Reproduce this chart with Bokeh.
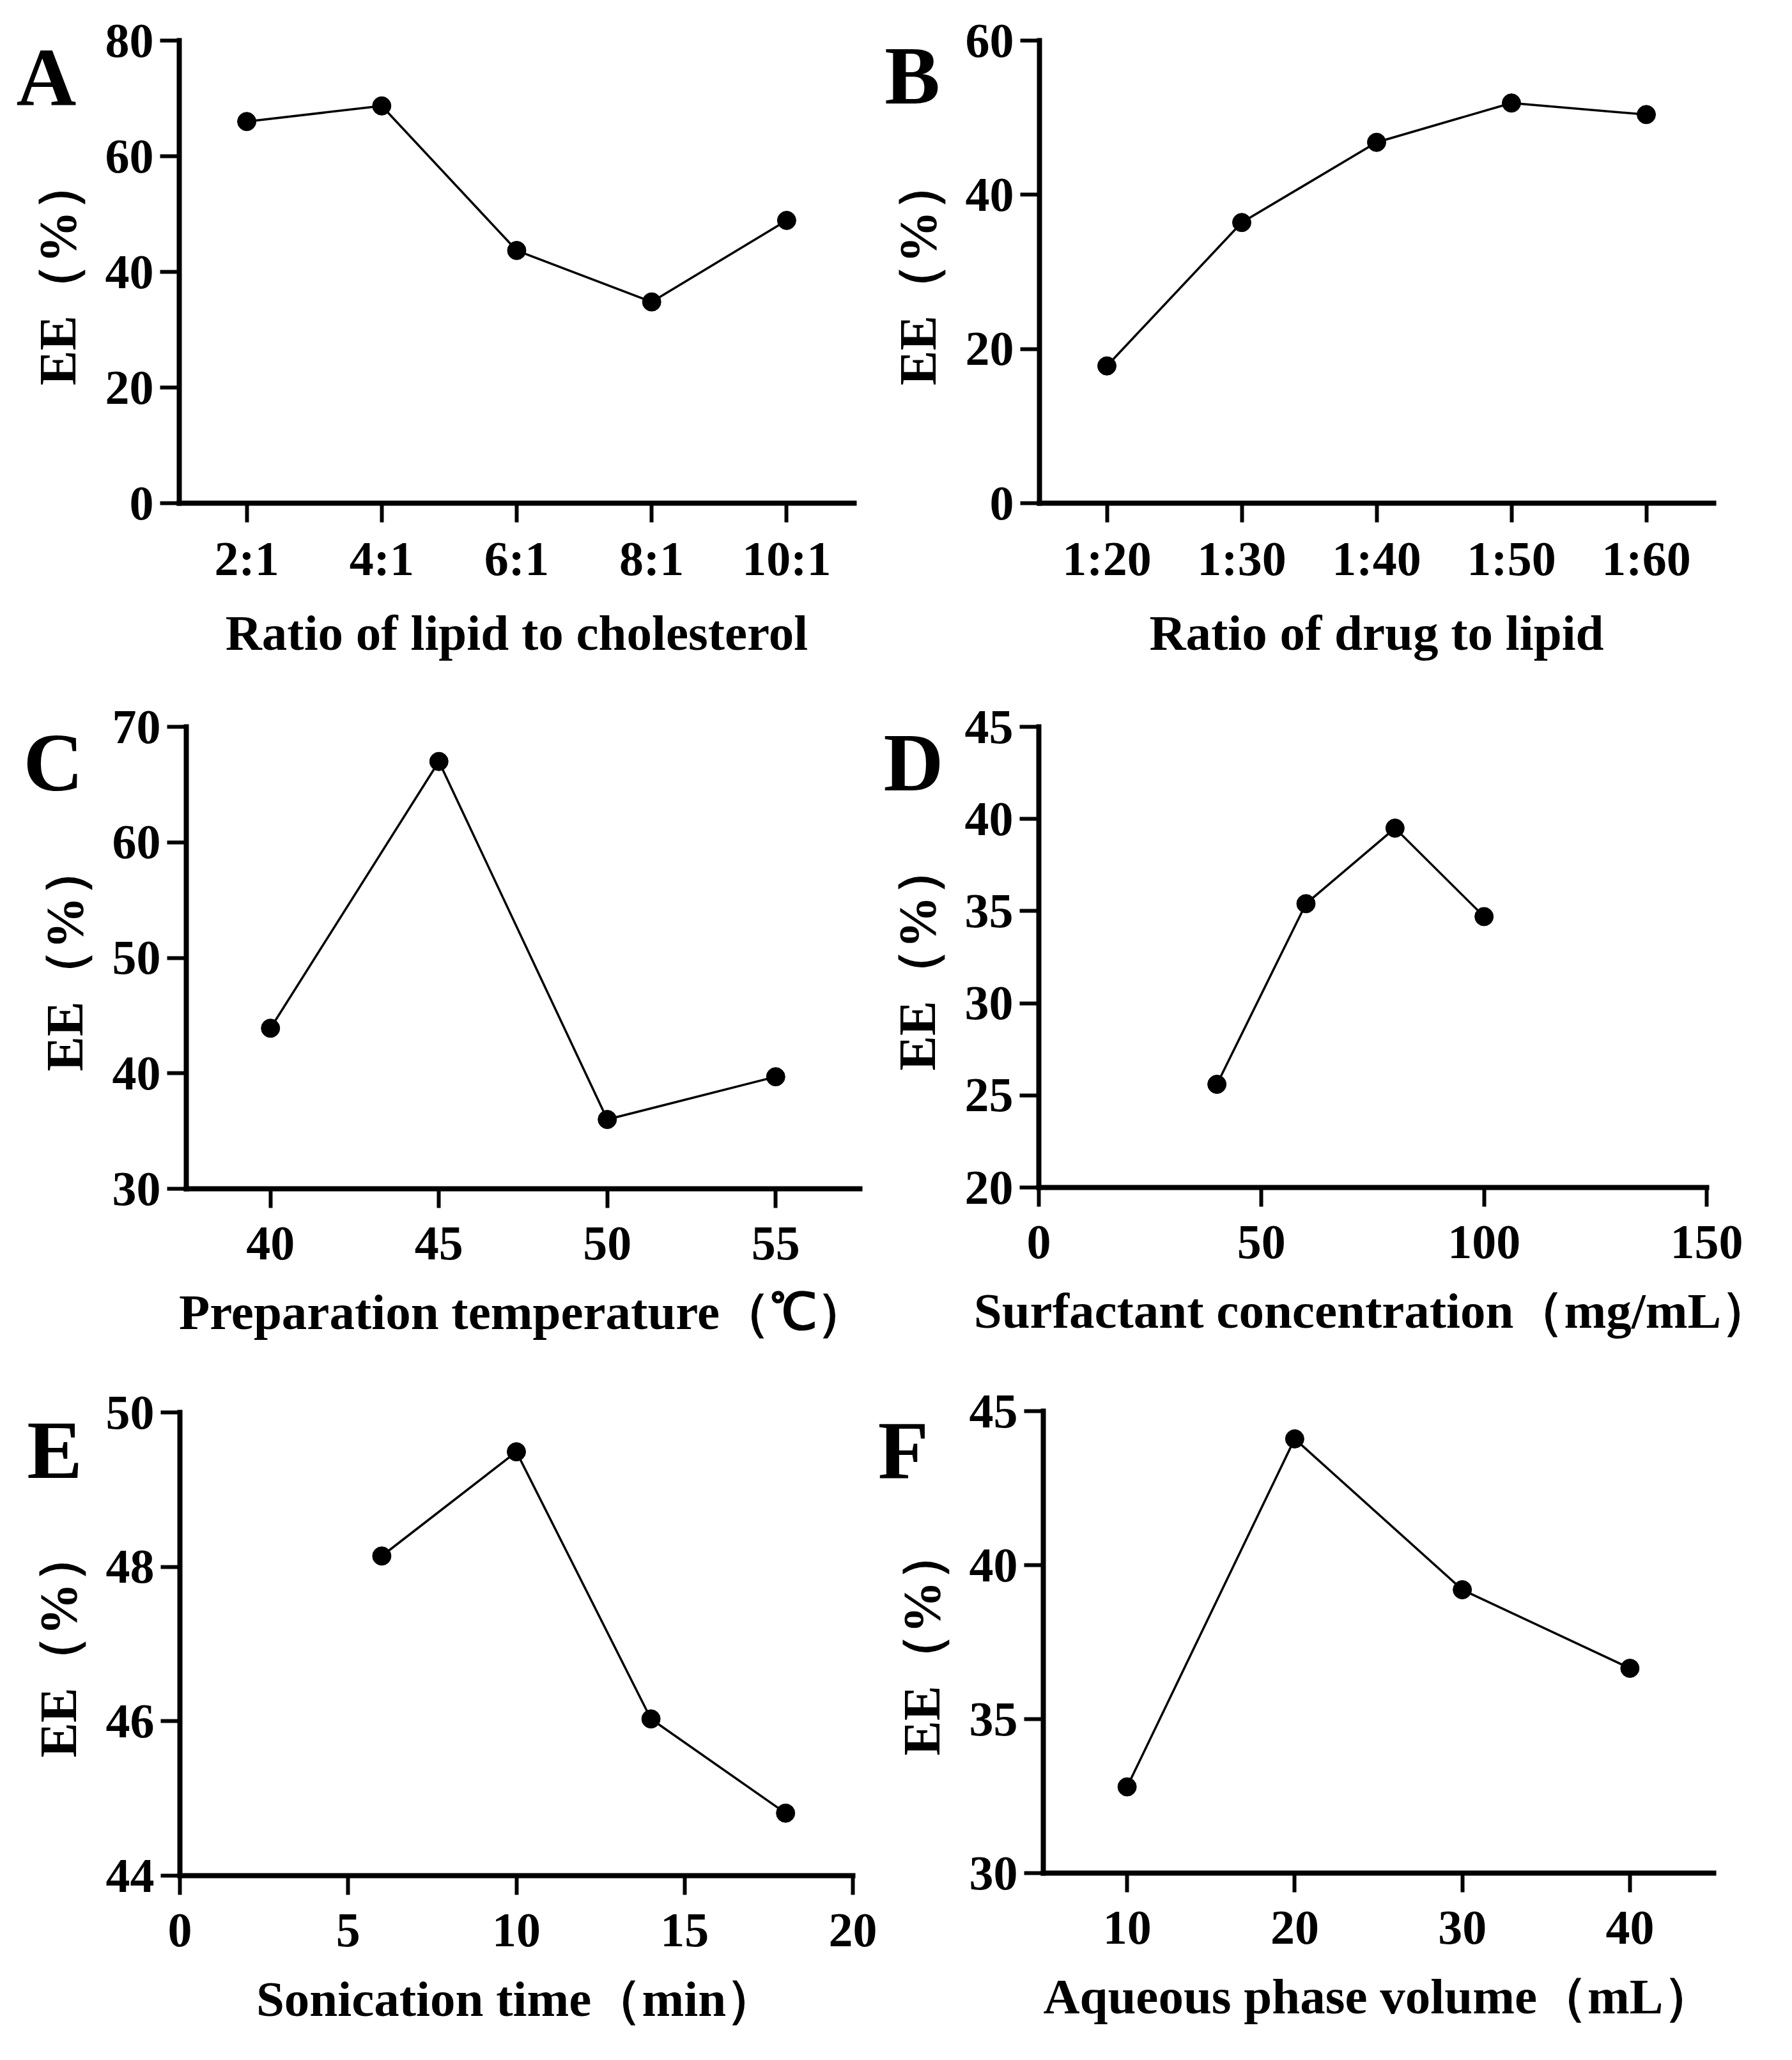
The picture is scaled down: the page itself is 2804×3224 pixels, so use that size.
from bokeh.plotting import figure
from bokeh.models import Range1d, FixedTicker, Label
from bokeh.layouts import gridplot
from bokeh.embed import file_html
from bokeh.resources import INLINE

# ---------------- data ----------------
A_ratio = ["2:1", "4:1", "6:1", "8:1", "10:1"]
A_ee = [66.0, 68.7, 43.7, 34.8, 48.9]

B_ratio = ["1:20", "1:30", "1:40", "1:50", "1:60"]
B_ee = [17.8, 36.4, 46.8, 51.9, 50.4]

C_temp = [40, 45, 50, 55]
C_ee = [43.9, 67.0, 36.0, 39.7]

D_conc = [40, 60, 80, 100]
D_ee = [25.6, 35.4, 39.5, 34.7]

E_time = [6, 10, 14, 18]
E_ee = [48.14, 49.49, 46.03, 44.81]

F_vol = [10, 20, 30, 40]
F_ee = [32.8, 44.1, 39.2, 36.65]

A_yticks = [0, 20, 40, 60, 80]
B_yticks = [0, 20, 40, 60]
C_yticks = [30, 40, 50, 60, 70]
D_yticks = [20, 25, 30, 35, 40, 45]
E_yticks = [44, 46, 48, 50]
F_yticks = [30, 35, 40, 45]
C_xticks = [40, 45, 50, 55]
D_xticks = [0, 50, 100, 150]
E_xticks = [0, 5, 10, 15, 20]
F_xticks = [10, 20, 30, 40]

Y_TITLE = "EE（%）"

FONT = "Liberation Serif"
TICK_SIZE = "76px"
XTITLE_SIZE = "79px"
YTITLE_SIZE = "82px"
LETTER_SIZE = "130px"


def panel(xlim, ylim, yticks, xticks, xs, ys, xlabel, letter, letter_xy,
          w, h, box, tick_standoff, title_standoff, overrides=None):
    # box = (left, right, top, bottom) of the plotting area in canvas pixels
    L, R, T, B = box
    x0, x1 = xlim
    y0, y1 = ylim
    ppx = (R - L) / (x1 - x0)
    ppy = (B - T) / (y1 - y0)
    xr = Range1d(x0 - L / ppx, x1 + (w - R) / ppx)
    yr = Range1d(y0 - (h - B) / ppy, y1 + T / ppy)

    p = figure(width=w, height=h, x_range=xr, y_range=yr, title=None,
               output_backend="svg", toolbar_location=None,
               min_border_left=0, min_border_top=0,
               min_border_right=0, min_border_bottom=0)
    p.outline_line_color = None
    p.xgrid.visible = False
    p.ygrid.visible = False
    p.background_fill_color = "white"
    p.border_fill_color = "white"

    p.yaxis.ticker = FixedTicker(ticks=yticks, minor_ticks=[])
    p.xaxis.ticker = FixedTicker(ticks=xticks, minor_ticks=[])
    if overrides is not None:
        p.xaxis.major_label_overrides = overrides

    p.yaxis.fixed_location = x0
    p.yaxis.bounds = (y0, y1)
    p.xaxis.fixed_location = y0
    p.xaxis.bounds = (x0, x1)

    for ax in (p.xaxis[0], p.yaxis[0]):
        ax.axis_line_width = 8
        ax.axis_line_color = "black"
        ax.axis_line_cap = "square"
        ax.major_tick_line_width = 6
        ax.major_tick_line_color = "black"
        ax.major_tick_out = 30
        ax.major_tick_in = 0
        ax.minor_tick_out = 0
        ax.minor_tick_in = 0
        ax.major_label_text_font = FONT
        ax.major_label_text_font_size = TICK_SIZE
        ax.major_label_text_font_style = "bold"
        ax.major_label_text_color = "black"
        ax.axis_label_text_font = FONT
        ax.axis_label_text_font_style = "bold"
        ax.axis_label_text_color = "black"
    p.xaxis.axis_label_text_font_size = XTITLE_SIZE
    p.yaxis.axis_label_text_font_size = YTITLE_SIZE

    p.xaxis.major_label_standoff = tick_standoff
    p.yaxis.major_label_standoff = 10
    p.xaxis.axis_label = xlabel
    p.yaxis.axis_label = Y_TITLE
    p.xaxis.axis_label_standoff = title_standoff
    p.yaxis.axis_label_standoff = 26

    p.line(xs, ys, line_color="black", line_width=3.5)
    p.scatter(xs, ys, size=29, marker="circle", fill_color="black", line_color="black")

    lab = Label(x=letter_xy[0], y=letter_xy[1], x_units="screen", y_units="screen",
                text=letter, text_font=FONT, text_font_size=LETTER_SIZE,
                text_font_style="bold", text_color="black",
                text_align="center", text_baseline="middle")
    p.add_layout(lab)
    return p


W1, W2 = 1372, 1416
H1, H2, H3 = 1050, 1115, 1043

A_pos = list(range(len(A_ratio)))
B_pos = list(range(len(B_ratio)))

pA = panel((-0.5, len(A_ratio) - 0.5), (0, 80), A_yticks, A_pos, A_pos, A_ee,
           "Ratio of lipid to cholesterol", "A", (72, 931),
           W1, H1, (280, 1336, 63, 787), 14, 28, overrides=dict(zip(A_pos, A_ratio)))
pB = panel((-0.5, len(B_ratio) - 0.5), (0, 60), B_yticks, B_pos, B_pos, B_ee,
           "Ratio of drug to lipid", "B", (55, 933),
           W2, H1, (254, 1309, 63, 787), 14, 28, overrides=dict(zip(B_pos, B_ratio)))
pC = panel((37.5, 57.5), (30, 70), C_yticks, C_xticks, C_temp, C_ee,
           "Preparation temperature（℃）", "C", (83, 973),
           W1, H2, (291, 1345, 87, 810), 30, 36)
pD = panel((0, 150), (20, 45), D_yticks, D_xticks, D_conc, D_ee,
           "Surfactant concentration（mg/mL）", "D", (57, 973),
           W2, H2, (253, 1298, 87, 808), 30, 36)
pE = panel((0, 20), (44, 50), E_yticks, E_xticks, E_time, E_ee,
           "Sonication time（min）", "E", (85, 940),
           W1, H3, (281, 1334, 45, 770), 30, 36)
pF = panel((5, 45), (30, 45), F_yticks, F_xticks, F_vol, F_ee,
           "Aqueous phase volume（mL）", "F", (41, 940),
           W2, H3, (260, 1309, 43, 766), 30, 36)

grid = gridplot([[pA, pB], [pC, pD], [pE, pF]], toolbar_location=None)

open("out.html", "w").write(file_html(grid, INLINE))
